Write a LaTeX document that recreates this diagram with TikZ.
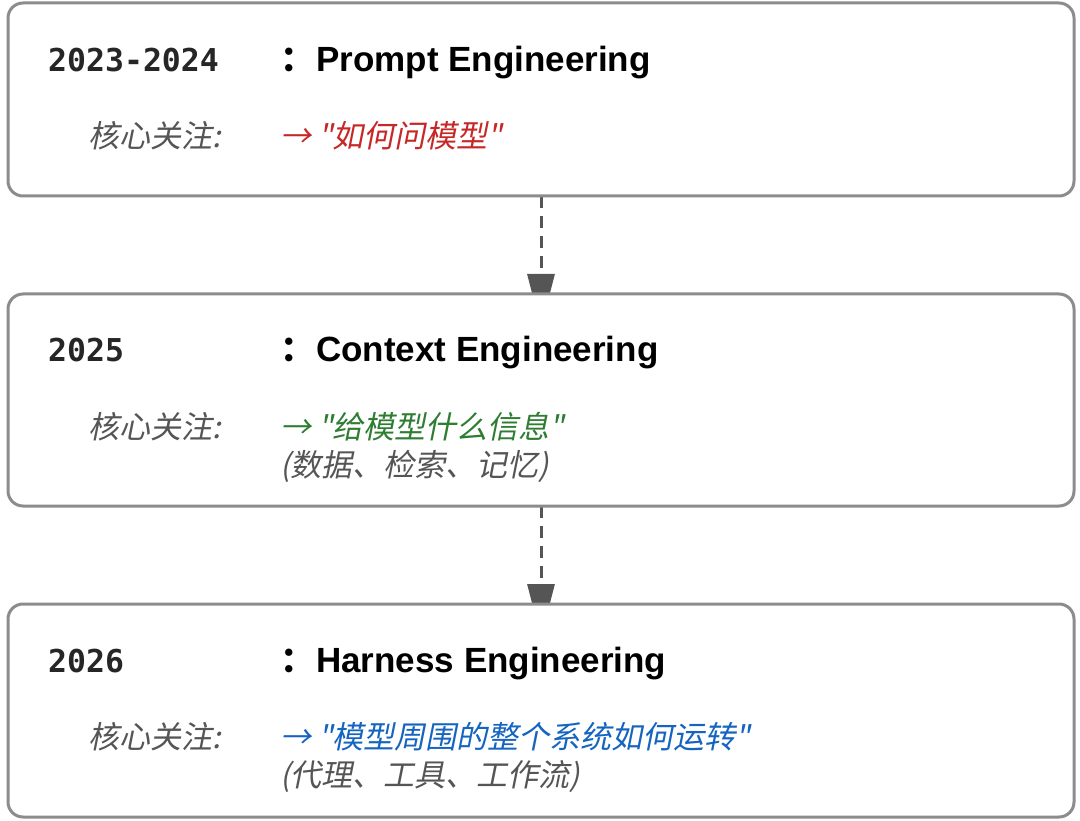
\documentclass[tikz,border=0pt]{standalone}
\usepackage{fontspec}
\setmainfont{Liberation Sans}
\newfontfamily\cjkit[FakeSlant=0.2]{Noto Sans CJK SC}
\newfontfamily\cjkbf{Noto Sans CJK SC Bold}
\newfontfamily\yearfont{DejaVu Sans Mono}
\usetikzlibrary{arrows.meta}

\definecolor{boxgray}{HTML}{8C8C8C}
\definecolor{arrowgray}{HTML}{555555}
\definecolor{notegray}{HTML}{555555}
\definecolor{promptred}{HTML}{C62828}
\definecolor{contextgreen}{HTML}{2E7D32}
\definecolor{harnessblue}{HTML}{1565C0}

\tikzset{
	stage/.style={draw=boxgray, line width=3pt, rounded corners=15pt, fill=white, minimum width=1066pt, inner sep=0pt},
	year/.style={anchor=base west, inner sep=0pt, font=\yearfont\bfseries\fontsize{31.5}{36}\selectfont, text=black!85},
	title/.style={anchor=base west, inner sep=0pt, font=\bfseries\fontsize{35}{40}\selectfont},
	note/.style={anchor=base west, inner sep=0pt, font=\cjkit\fontsize{31}{36}\selectfont, text=notegray},
	flow/.style={arrowgray, line width=3pt, dash pattern=on 12pt off 8pt, shorten >=-34pt, -{Triangle[width=27pt,length=54pt]}}
}

\begin{document}
\begin{tikzpicture}[x=1pt,y=-1pt]
	\useasboundingbox (0,0) rectangle (1080,821);
	
	% 箭头端点（先画箭头，方框盖住箭尖）
	\coordinate (c1) at (541,196);
	\coordinate (c2) at (541,294);
	\coordinate (c3) at (541,506);
	\coordinate (c4) at (541,604);
	
	% 虚线箭头
	\draw[flow] (c1) -- (c2);
	\draw[flow] (c3) -- (c4);
	
	% 三个阶段的方框
	\node[stage, minimum height=193pt] (prompt) at (541,99.5) {};
	\node[stage, minimum height=212pt] (context) at (541,400) {};
	\node[stage, minimum height=213pt] (harness) at (541,710.5) {};
	
	% 2023-2024
	\node[year] (y1) at (48,72) {2023-2024};
	\node[title] (t1) at (280,72) {{\cjkbf ：}\hspace{1pt}Prompt Engineering};
	\node[note] (k1) at (88,148) {核心关注:};
	\node[note, text=promptred] (f1) at (280,148) {→ "如何问模型"};
	
	% 2025
	\node[year] (y2) at (48,362) {2025};
	\node[title] (t2) at (280,362) {{\cjkbf ：}\hspace{1pt}Context Engineering};
	\node[note] (k2) at (88,438) {核心关注:};
	\node[note, text=contextgreen] (f2) at (280,438) {→ "给模型什么信息"};
	\node[note] (d2) at (280,476) {(数据、检索、记忆)};
	
	% 2026
	\node[year] (y3) at (48,672) {2026};
	\node[title] (t3) at (280,672) {{\cjkbf ：}\hspace{1pt}Harness Engineering};
	\node[note] (k3) at (88,748) {核心关注:};
	\node[note, text=harnessblue] (f3) at (280,748) {→ "模型周围的整个系统如何运转"};
	\node[note] (d3) at (280,786) {(代理、工具、工作流)};
\end{tikzpicture}
\end{document}
